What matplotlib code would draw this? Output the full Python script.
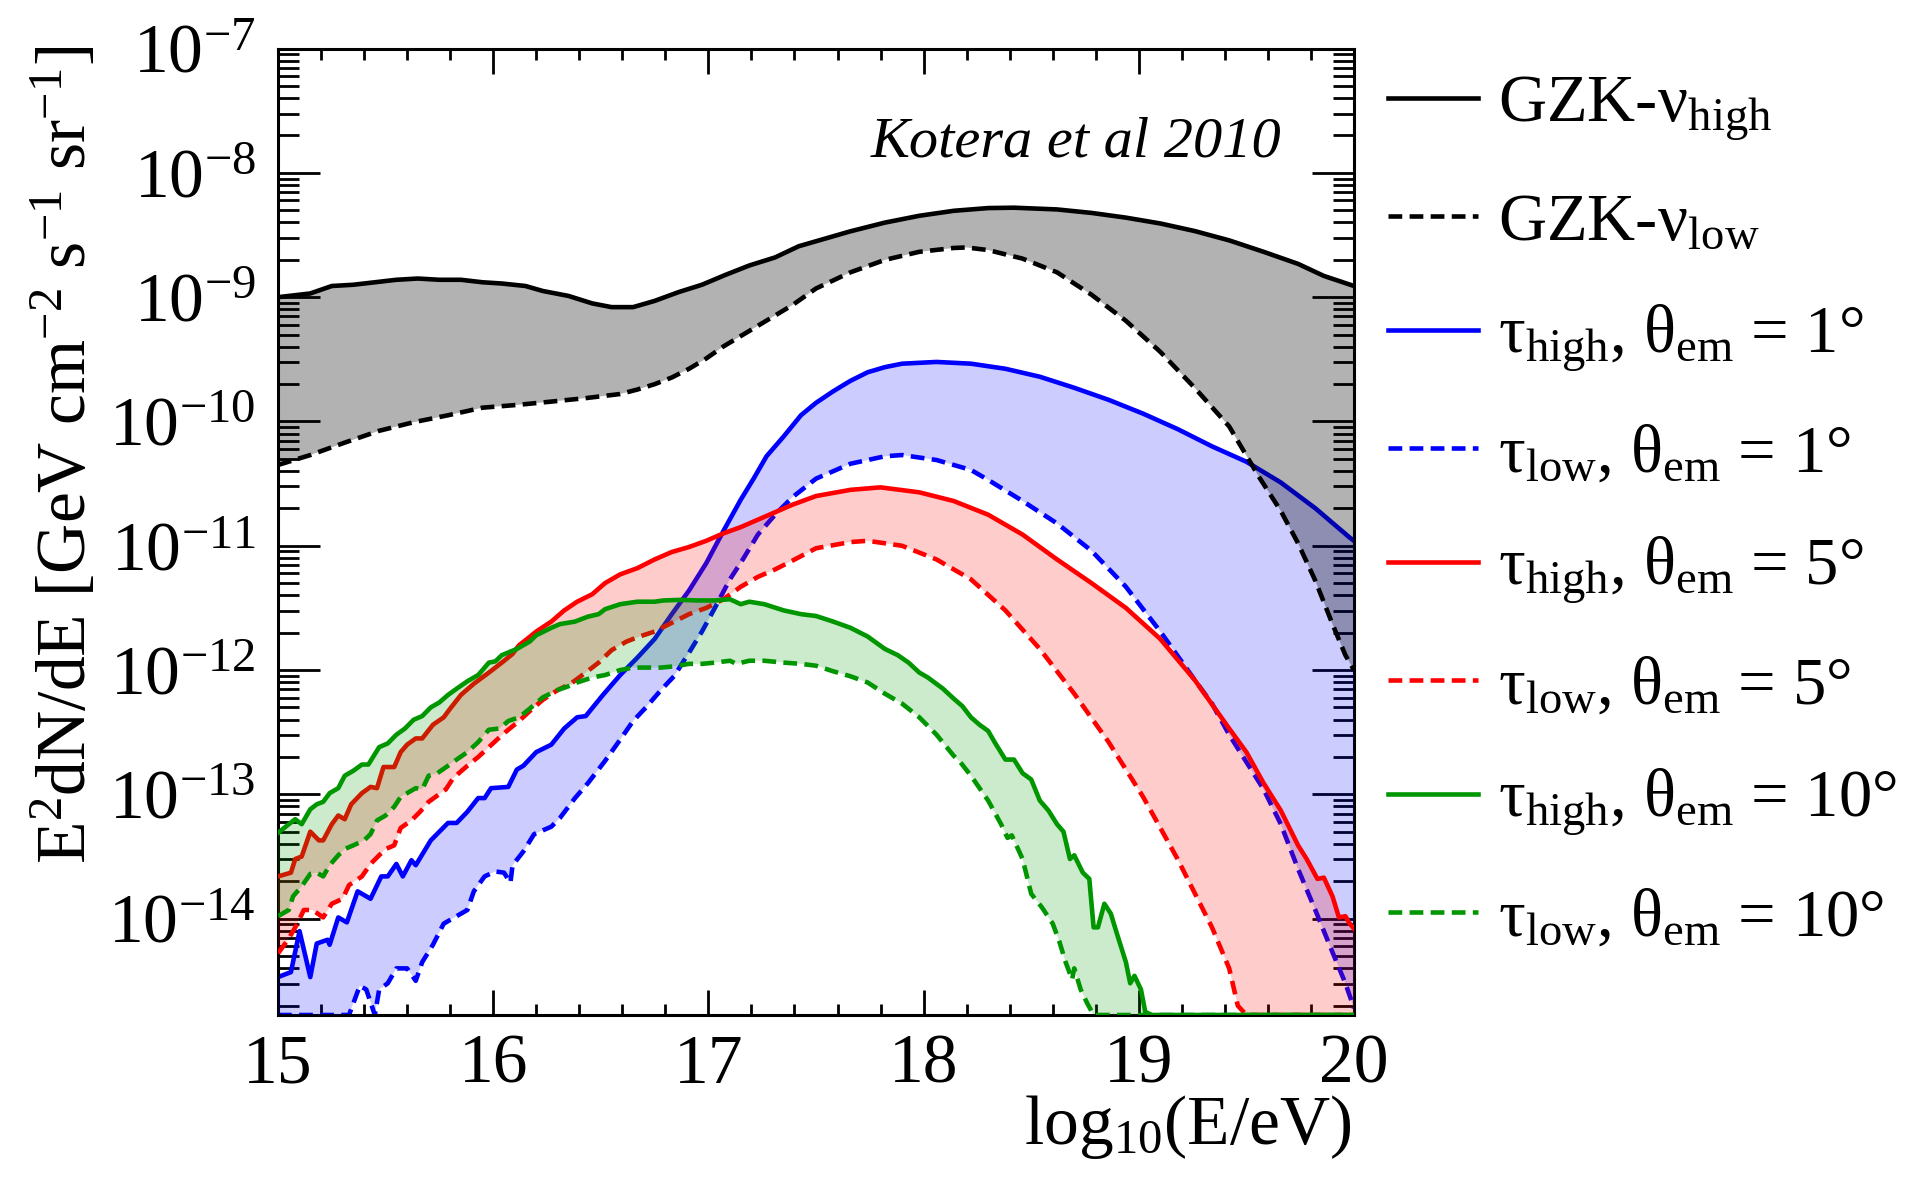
import numpy as np
import matplotlib
matplotlib.use("Agg")
import matplotlib.pyplot as plt
from matplotlib.ticker import LogLocator, MultipleLocator, NullFormatter, FixedLocator

plt.rcParams['font.family'] = ['Liberation Serif', 'DejaVu Serif']
plt.rcParams['mathtext.fontset'] = 'custom'
plt.rcParams['mathtext.rm'] = 'Liberation Serif'
plt.rcParams['mathtext.it'] = 'Liberation Serif:italic'
plt.rcParams['mathtext.bf'] = 'Liberation Serif:bold'

# (log10(E/eV), log10(E^2 dN/dE)); -15.5 = below the frame
gzk_high = [(15.0, -9.0), (15.15, -8.97), (15.25, -8.91), (15.35, -8.90), (15.45, -8.88),
            (15.55, -8.86), (15.65, -8.85), (15.75, -8.86), (15.85, -8.86), (15.95, -8.88),
            (16.04, -8.89), (16.15, -8.91), (16.23, -8.95), (16.35, -8.99), (16.46, -9.05),
            (16.55, -9.08), (16.65, -9.08), (16.75, -9.03), (16.86, -8.96), (16.97, -8.90),
            (17.08, -8.82), (17.19, -8.745), (17.31, -8.68), (17.42, -8.59), (17.5, -8.55),
            (17.66, -8.47), (17.82, -8.40), (17.98, -8.345), (18.14, -8.305), (18.3, -8.283),
            (18.42, -8.28), (18.62, -8.294), (18.78, -8.322), (18.94, -8.36), (19.1, -8.407),
            (19.26, -8.468), (19.42, -8.543), (19.58, -8.635), (19.74, -8.732), (19.86, -8.829),
            (20.0, -8.91)]
gzk_low = [(15.0, -10.35), (15.15, -10.27), (15.31, -10.17), (15.47, -10.075), (15.63, -10.006),
           (15.79, -9.95), (15.95, -9.889), (16.11, -9.867), (16.27, -9.84), (16.43, -9.812),
           (16.59, -9.779), (16.67, -9.743), (16.75, -9.70), (16.83, -9.646), (16.91, -9.576),
           (16.99, -9.493), (17.07, -9.396), (17.15, -9.313), (17.23, -9.23), (17.31, -9.147),
           (17.39, -9.064), (17.5, -8.93), (17.66, -8.80), (17.82, -8.70), (17.98, -8.635),
           (18.14, -8.604), (18.2, -8.60), (18.3, -8.621), (18.46, -8.69), (18.62, -8.80),
           (18.78, -8.98), (18.94, -9.19), (19.1, -9.44), (19.26, -9.73), (19.42, -10.04),
           (19.56, -10.45), (19.66, -10.72), (19.74, -10.98), (19.82, -11.28), (19.9, -11.63),
           (19.96, -11.88), (20.0, -12.0)]

tau1_high = [(15.0, -14.47), (15.06, -14.43), (15.1, -14.10), (15.15, -14.47), (15.18, -14.20),
             (15.23, -14.17), (15.24, -14.21), (15.28, -13.99), (15.32, -14.03), (15.37, -13.78),
             (15.43, -13.84), (15.48, -13.66), (15.51, -13.66), (15.55, -13.56), (15.58, -13.66),
             (15.62, -13.53), (15.64, -13.57), (15.71, -13.37), (15.79, -13.23), (15.83, -13.23),
             (15.88, -13.14), (15.93, -13.03), (15.96, -13.03), (15.99, -12.95), (16.07, -12.94),
             (16.11, -12.80), (16.14, -12.77), (16.2, -12.66), (16.27, -12.60), (16.33, -12.47),
             (16.39, -12.38), (16.43, -12.37), (16.51, -12.20), (16.59, -12.04), (16.67, -11.90),
             (16.75, -11.75), (16.83, -11.55), (16.91, -11.36), (16.99, -11.14), (17.07, -10.88),
             (17.15, -10.63), (17.21, -10.46), (17.27, -10.28), (17.35, -10.12), (17.43, -9.95),
             (17.5, -9.85), (17.58, -9.757), (17.66, -9.673), (17.74, -9.604), (17.82, -9.563),
             (17.9, -9.535), (18.06, -9.521), (18.22, -9.535), (18.38, -9.576), (18.54, -9.64),
             (18.7, -9.729), (18.86, -9.826), (19.02, -9.937), (19.18, -10.061), (19.34, -10.2),
             (19.5, -10.324), (19.66, -10.491), (19.82, -10.698), (19.98, -10.934), (20.0, -10.96)]
tau1_low = [(15.0, -15.5), (15.3, -15.5), (15.33, -14.85), (15.38, -14.54), (15.41, -14.57),
            (15.45, -14.82), (15.47, -14.57), (15.51, -14.52), (15.55, -14.40), (15.6, -14.40),
            (15.64, -14.50), (15.67, -14.35), (15.72, -14.21), (15.77, -14.04), (15.82, -13.99),
            (15.88, -13.93), (15.91, -13.78), (15.96, -13.66), (16.01, -13.62), (16.05, -13.63),
            (16.08, -13.71), (16.09, -13.57), (16.14, -13.46), (16.19, -13.32), (16.27, -13.26),
            (16.31, -13.19), (16.38, -13.03), (16.44, -12.91), (16.52, -12.73), (16.59, -12.56),
            (16.65, -12.41), (16.71, -12.30), (16.78, -12.16), (16.84, -12.05), (16.91, -11.86),
            (16.97, -11.69), (17.03, -11.50), (17.1, -11.27), (17.16, -11.11), (17.23, -10.91),
            (17.31, -10.75), (17.39, -10.61), (17.5, -10.46), (17.66, -10.34), (17.82, -10.28),
            (17.9, -10.27), (18.06, -10.31), (18.22, -10.39), (18.3, -10.47), (18.46, -10.64),
            (18.62, -10.82), (18.78, -11.04), (18.94, -11.33), (19.1, -11.69), (19.26, -12.08),
            (19.34, -12.27), (19.42, -12.52), (19.5, -12.74), (19.58, -12.96), (19.66, -13.24),
            (19.74, -13.60), (19.82, -13.93), (19.9, -14.27), (19.96, -14.52), (20.0, -14.72)]

tau5_high = [(15.0, -13.66), (15.06, -13.63), (15.08, -13.52), (15.11, -13.50), (15.15, -13.30),
             (15.19, -13.37), (15.21, -13.37), (15.25, -13.24), (15.28, -13.17), (15.31, -13.20),
             (15.34, -13.08), (15.39, -12.99), (15.43, -12.94), (15.46, -12.95), (15.49, -12.78),
             (15.54, -12.78), (15.57, -12.66), (15.6, -12.60), (15.64, -12.55), (15.67, -12.55),
             (15.72, -12.44), (15.77, -12.38), (15.8, -12.31), (15.85, -12.20), (15.91, -12.11),
             (15.98, -12.02), (16.04, -11.94), (16.09, -11.87), (16.12, -11.80), (16.15, -11.76),
             (16.2, -11.69), (16.27, -11.61), (16.33, -11.52), (16.39, -11.45), (16.46, -11.39),
             (16.52, -11.30), (16.59, -11.23), (16.67, -11.18), (16.75, -11.11), (16.83, -11.05),
             (16.91, -11.01), (16.99, -10.96), (17.07, -10.90), (17.15, -10.85), (17.23, -10.79),
             (17.31, -10.73), (17.39, -10.67), (17.5, -10.60), (17.66, -10.55), (17.8, -10.53),
             (17.98, -10.57), (18.14, -10.64), (18.3, -10.75), (18.46, -10.91), (18.62, -11.11),
             (18.78, -11.30), (18.94, -11.50), (19.1, -11.75), (19.26, -12.08), (19.42, -12.47),
             (19.5, -12.66), (19.58, -12.91), (19.66, -13.13), (19.74, -13.41), (19.78, -13.52),
             (19.83, -13.68), (19.86, -13.67), (19.9, -13.82), (19.93, -13.99), (19.96, -13.98),
             (19.98, -14.04), (20.0, -14.08)]
tau5_low = [(15.0, -14.28), (15.05, -14.16), (15.09, -14.04), (15.12, -13.93), (15.16, -13.93),
            (15.21, -13.99), (15.25, -13.88), (15.3, -13.84), (15.33, -13.73), (15.39, -13.66),
            (15.43, -13.56), (15.47, -13.49), (15.5, -13.44), (15.54, -13.41), (15.57, -13.27),
            (15.62, -13.21), (15.66, -13.14), (15.7, -13.06), (15.74, -13.01), (15.78, -12.96),
            (15.81, -12.88), (15.84, -12.83), (15.88, -12.77), (15.93, -12.70), (15.98, -12.62),
            (16.03, -12.54), (16.07, -12.48), (16.12, -12.41), (16.17, -12.33), (16.23, -12.24),
            (16.3, -12.16), (16.36, -12.11), (16.43, -12.02), (16.49, -11.94), (16.55, -11.84),
            (16.62, -11.77), (16.68, -11.73), (16.75, -11.69), (16.83, -11.62), (16.91, -11.55),
            (16.99, -11.50), (17.07, -11.43), (17.15, -11.33), (17.23, -11.25), (17.31, -11.19),
            (17.39, -11.12), (17.5, -11.02), (17.66, -10.97), (17.74, -10.96), (17.9, -11.0),
            (18.06, -11.11), (18.22, -11.27), (18.38, -11.52), (18.54, -11.83), (18.7, -12.19),
            (18.86, -12.58), (19.02, -13.02), (19.18, -13.52), (19.34, -14.07), (19.42, -14.40),
            (19.46, -14.7), (19.5, -15.5), (20.0, -15.5)]

tau10_high = [(15.0, -13.31), (15.05, -13.24), (15.08, -13.20), (15.11, -13.24), (15.15, -13.12),
              (15.18, -13.08), (15.21, -13.06), (15.24, -12.99), (15.28, -12.95), (15.31, -12.85),
              (15.35, -12.81), (15.39, -12.76), (15.42, -12.76), (15.47, -12.62), (15.51, -12.59),
              (15.55, -12.52), (15.59, -12.47), (15.63, -12.40), (15.67, -12.37), (15.71, -12.30),
              (15.75, -12.26), (15.79, -12.20), (15.83, -12.15), (15.88, -12.09), (15.93, -12.04),
              (15.98, -11.94), (16.01, -11.93), (16.04, -11.88), (16.11, -11.83), (16.17, -11.77),
              (16.2, -11.72), (16.27, -11.66), (16.31, -11.63), (16.38, -11.61), (16.44, -11.57),
              (16.49, -11.55), (16.52, -11.51), (16.59, -11.47), (16.67, -11.45), (16.75, -11.45),
              (16.79, -11.44), (16.87, -11.435), (16.95, -11.44), (17.03, -11.44), (17.1, -11.43),
              (17.15, -11.47), (17.19, -11.45), (17.26, -11.47), (17.35, -11.52), (17.43, -11.55),
              (17.5, -11.565), (17.58, -11.61), (17.66, -11.66), (17.74, -11.73), (17.82, -11.83),
              (17.88, -11.88), (17.93, -11.94), (17.98, -12.02), (18.02, -12.06), (18.09, -12.15),
              (18.14, -12.23), (18.18, -12.29), (18.22, -12.38), (18.26, -12.44), (18.3, -12.49),
              (18.33, -12.58), (18.38, -12.72), (18.42, -12.72), (18.46, -12.83), (18.5, -12.88),
              (18.54, -13.05), (18.58, -13.13), (18.62, -13.24), (18.65, -13.30), (18.68, -13.52),
              (18.7, -13.49), (18.74, -13.63), (18.77, -13.68), (18.79, -14.07), (18.81, -14.07),
              (18.84, -13.88), (18.87, -13.96), (18.9, -14.13), (18.94, -14.35), (18.96, -14.52),
              (18.98, -14.46), (19.01, -14.57), (19.03, -14.75), (19.06, -15.5), (20.0, -15.5)]
tau10_low = [(15.0, -13.98), (15.05, -13.93), (15.07, -13.82), (15.11, -13.74), (15.15, -13.64),
             (15.18, -13.63), (15.21, -13.66), (15.24, -13.57), (15.28, -13.49), (15.31, -13.44),
             (15.35, -13.41), (15.4, -13.37), (15.43, -13.32), (15.46, -13.21), (15.5, -13.17),
             (15.54, -13.10), (15.57, -13.02), (15.61, -12.98), (15.64, -12.95), (15.67, -12.96),
             (15.7, -12.85), (15.74, -12.83), (15.79, -12.77), (15.83, -12.72), (15.88, -12.66),
             (15.93, -12.58), (15.98, -12.48), (16.03, -12.47), (16.07, -12.41), (16.12, -12.38),
             (16.17, -12.31), (16.23, -12.22), (16.3, -12.16), (16.35, -12.13), (16.39, -12.10),
             (16.46, -12.06), (16.52, -12.04), (16.59, -12.0), (16.65, -11.98), (16.71, -11.98),
             (16.78, -11.98), (16.84, -11.97), (16.91, -11.95), (16.97, -11.95), (17.03, -11.94),
             (17.1, -11.925), (17.13, -11.95), (17.19, -11.925), (17.26, -11.925), (17.35, -11.94),
             (17.43, -11.95), (17.5, -11.965), (17.58, -12.01), (17.66, -12.05), (17.74, -12.10),
             (17.82, -12.19), (17.9, -12.27), (17.98, -12.38), (18.06, -12.52), (18.14, -12.69),
             (18.17, -12.74), (18.22, -12.85), (18.3, -13.05), (18.36, -13.24), (18.39, -13.35),
             (18.41, -13.33), (18.46, -13.52), (18.5, -13.80), (18.55, -13.91), (18.6, -14.04),
             (18.63, -14.18), (18.66, -14.35), (18.69, -14.49), (18.7, -14.40), (18.73, -14.57),
             (18.76, -14.68), (18.79, -14.80), (18.82, -15.5), (20.0, -15.5)]

labels = ['GZK-ν$_{\\mathrm{high}}$', 'GZK-ν$_{\\mathrm{low}}$',
          'τ$_{\\mathrm{high}}$, θ$_{\\mathrm{em}}$ = 1°', 'τ$_{\\mathrm{low}}$, θ$_{\\mathrm{em}}$ = 1°',
          'τ$_{\\mathrm{high}}$, θ$_{\\mathrm{em}}$ = 5°', 'τ$_{\\mathrm{low}}$, θ$_{\\mathrm{em}}$ = 5°',
          'τ$_{\\mathrm{high}}$, θ$_{\\mathrm{em}}$ = 10°', 'τ$_{\\mathrm{low}}$, θ$_{\\mathrm{em}}$ = 10°']

YMIN, YMAX = 10 ** -14.775, 1e-7
LW = 3.3
DASH = (0, (3.0, 1.6))


def unpack(series):
    x = np.array([p[0] for p in series])
    # ROOT draws points below the frame on its lower edge
    y = np.maximum(10.0 ** np.array([p[1] for p in series]), YMIN)
    return x, y


fig = plt.figure(figsize=(19.23, 11.84), dpi=100)
ax = fig.add_axes([0.14457, 0.14274, 0.55954, 0.81622])

# draw order: blue, red, green, GZK; each band's fill goes over its own lines
groups = [(tau1_high, tau1_low, '#0000ff', '#0000ff', 0.2),
          (tau5_high, tau5_low, '#ff0000', '#ff0000', 0.2),
          (tau10_high, tau10_low, '#009600', '#009600', 0.2),
          (gzk_high, gzk_low, 'black', 'black', 0.3)]

handles = {}
for i, (hi, lo, col, fcol, alpha) in enumerate(groups):
    xh, yh = unpack(hi)
    xl, yl = unpack(lo)
    z = 2 + 2 * i
    lh, = ax.plot(xh, yh, color=col, lw=LW, zorder=z)
    ll, = ax.plot(xl, yl, color=col, lw=LW, linestyle=DASH, zorder=z)
    ax.fill(np.concatenate([xh, xl[::-1]]), np.concatenate([yh, yl[::-1]]),
            color=fcol, alpha=alpha, lw=0, zorder=z + 1)
    handles[i] = (lh, ll)

ax.set_yscale('log')
ax.set_xlim(15, 20)
ax.set_ylim(YMIN, YMAX)

ax.xaxis.set_major_locator(MultipleLocator(1))
ax.xaxis.set_minor_locator(MultipleLocator(0.2))
ax.yaxis.set_major_locator(FixedLocator(10.0 ** np.arange(-14, -6)))
ax.yaxis.set_minor_locator(LogLocator(base=10, subs=np.arange(2, 10), numticks=20))
ax.yaxis.set_minor_formatter(NullFormatter())

ax.tick_params(which='both', direction='in', top=True, right=True, width=2)
ax.tick_params(axis='x', which='major', length=18, labelsize=50, pad=14)
ax.tick_params(axis='x', which='minor', length=8)
ax.tick_params(axis='y', which='major', length=30, labelsize=50, pad=16)
ax.tick_params(axis='y', which='minor', length=15)
for s in ax.spines.values():
    s.set_linewidth(2.2)

fig.text(0.7030, 0.0338, 'log$_{10}$(E/eV)', fontsize=50, ha='right', va='baseline')
fig.text(0.0172, 0.961, 'E$^{2}$dN/dE [GeV cm$^{-2}$ s$^{-1}$ sr$^{-1}$]',
         fontsize=50, rotation=90, ha='left', va='top')
ax.text(0.933, 0.888, 'Kotera et al 2010', transform=ax.transAxes,
        fontsize=42, style='italic', ha='right', va='baseline')

order = [handles[3][0], handles[3][1], handles[0][0], handles[0][1],
         handles[1][0], handles[1][1], handles[2][0], handles[2][1]]
fig.legend(order, labels, loc='upper left', bbox_to_anchor=(0.722, 0.937),
           frameon=False, fontsize=48, handlelength=1.35, handletextpad=0.3,
           labelspacing=0.74, borderpad=0, borderaxespad=0)

fig.savefig('out.png', dpi=100)
